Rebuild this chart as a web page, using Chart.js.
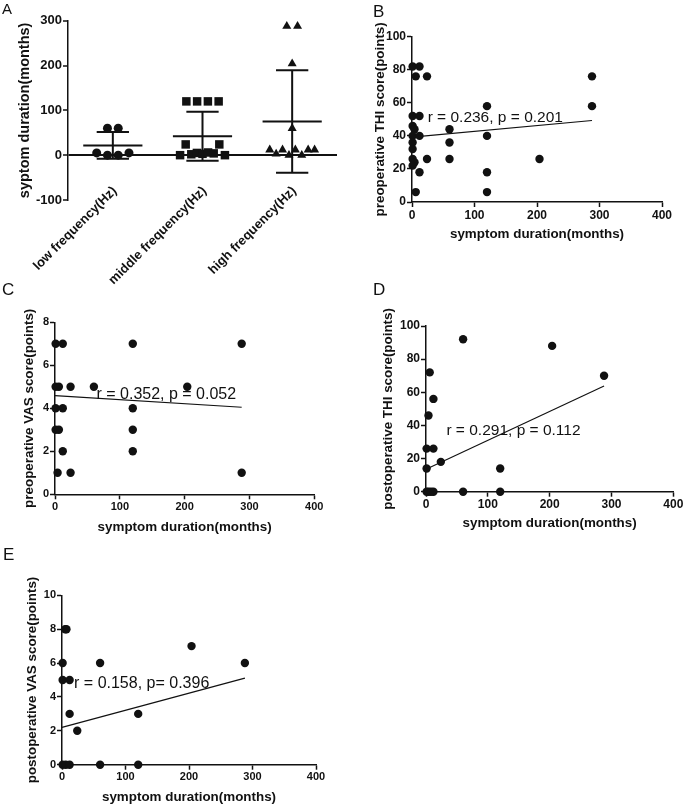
<!DOCTYPE html>
<html>
<head>
<meta charset="utf-8">
<script src="https://cdn.jsdelivr.net/npm/chart.js@4.4.0/dist/chart.umd.min.js"></script>
<style>
  body { margin: 0; background: #fff; }
  #wrap { position: relative; width: 685px; height: 805px; font-family: "Liberation Sans", Arial, Helvetica, sans-serif; }
  .panel { position: absolute; }
  .panel canvas { display: block; }
  .letter { position: absolute; font-size: 17px; line-height: 17px; color: #111; }
</style>
</head>
<body>
<div id="wrap">
  <div class="panel" style="left:0;top:0"><canvas id="chartA" width="345" height="290"></canvas></div>
  <div class="panel" style="left:345px;top:0"><canvas id="chartB" width="340" height="245"></canvas></div>
  <div class="panel" style="left:0;top:290px"><canvas id="chartC" width="345" height="250"></canvas></div>
  <div class="panel" style="left:345px;top:290px"><canvas id="chartD" width="340" height="250"></canvas></div>
  <div class="panel" style="left:0;top:545px"><canvas id="chartE" width="345" height="260"></canvas></div>
  <div class="letter" style="left:2px;top:0;font-size:15px">A</div>
  <div class="letter" style="left:373px;top:3px">B</div>
  <div class="letter" style="left:2px;top:281px">C</div>
  <div class="letter" style="left:373px;top:281px">D</div>
  <div class="letter" style="left:3px;top:546px">E</div>
</div>
<script>
// panel A: symptom duration per frequency group
const groupLabels = ['low frequency(Hz)', 'middle frequency(Hz)', 'high frequency(Hz)'];
const lowFreq = [60, 60, 5, 0, 0, 5];
const middleFreq = [120, 120, 120, 120, 0, 24, 2, 5, 3, 6, 4, 24, 0];
const highFreq = [288, 288, 204, 60, 12, 3, 12, 0, 12, 0, 12, 12];
const durationTicks = [-100, 0, 100, 200, 300];

// panels B-E: symptom duration (months) against scores
const durationB = [1, 12, 6, 24, 1, 12, 1, 4, 1, 12, 1, 1, 1, 4, 1, 12, 6, 24, 60, 60, 60, 120, 120, 120, 120, 204, 288, 288];
const preTHI = [82, 82, 76, 76, 52, 52, 46, 44, 40, 40, 36, 32, 26, 24, 22, 18, 6, 26, 44, 36, 26, 58, 40, 18, 6, 26, 76, 58];
const durationC = [1, 12, 1, 6, 24, 60, 1, 12, 1, 6, 12, 4, 24, 120, 120, 120, 120, 204, 288, 288];
const preVAS = [7, 7, 5, 5, 5, 5, 4, 4, 3, 3, 2, 1, 1, 7, 4, 3, 2, 5, 7, 1];
const durationD = [60, 204, 288, 6, 12, 4, 1, 12, 1, 24, 120, 1, 4, 8, 12, 60, 120];
const postTHI = [92, 88, 70, 72, 56, 46, 26, 26, 14, 18, 14, 0, 0, 0, 0, 0, 0];
const durationE = [5, 7, 1, 1, 12, 12, 24, 60, 120, 204, 288, 1, 6, 12, 60, 120];
const postVAS = [8, 8, 6, 5, 5, 3, 2, 6, 3, 7, 6, 0, 0, 0, 0, 0];

// fitted lines: [intercept, slope]
const fitB = [39.2, 0.0351];
const fitC = [4.59, -0.00188];
const fitD = [13.5, 0.1745];
const fitE = [2.2, 0.0101];
const statLabels = ['r = 0.236, p = 0.201', 'r = 0.352, p = 0.052', 'r = 0.291, p = 0.112', 'r = 0.158, p= 0.396'];

const FONT = '"Liberation Sans", Arial, Helvetica, sans-serif';
const INK = '#111';

function meanSd(v) {
  const m = v.reduce((a, b) => a + b, 0) / v.length;
  const sd = Math.sqrt(v.reduce((a, b) => a + (b - m) ** 2, 0) / (v.length - 1));
  return [m, sd];
}

// column scatter: values that sit close together get spread sideways
function spread(values, centre) {
  const clusters = [];
  values.forEach((v, i) => {
    let c = clusters.find(c => Math.abs(c.ref - v) <= 25);
    if (!c) { c = { ref: v, idx: [] }; clusters.push(c); }
    c.idx.push(i);
  });
  const pts = [];
  clusters.forEach(c => {
    const n = c.idx.length;
    const step = n > 1 ? Math.min(0.12, 0.5 / (n - 1)) : 0;
    c.idx.forEach((i, k) => pts.push({ x: centre + (k - (n - 1) / 2) * step, y: values[i] }));
  });
  return pts;
}

const statText = {
  id: 'statText',
  afterDatasetsDraw(chart, args, opts) {
    if (!opts.text) return;
    const { ctx, scales: { x, y } } = chart;
    ctx.save();
    ctx.font = opts.size + 'px ' + FONT;
    ctx.fillStyle = INK;
    ctx.textBaseline = 'middle';
    ctx.fillText(opts.text, x.getPixelForValue(opts.at[0]), y.getPixelForValue(opts.at[1]));
    ctx.restore();
  }
};

// slanted group names; the scale's own labels get clipped to its box,
// and these ones start a little above the bottom of the plot
const slantLabels = {
  id: 'slantLabels',
  afterDraw(chart, args, opts) {
    const { ctx, chartArea, scales: { x } } = chart;
    ctx.save();
    ctx.font = 'bold 13px ' + FONT;
    ctx.fillStyle = INK;
    ctx.textAlign = 'right';
    ctx.textBaseline = 'middle';
    opts.labels.forEach((t, i) => {
      ctx.save();
      ctx.translate(x.getPixelForValue(i + 1) + 2, chartArea.bottom - 11);
      ctx.rotate(-Math.PI / 4);
      ctx.fillText(t, 0, 0);
      ctx.restore();
    });
    ctx.restore();
  }
};

// ---- panel A ----
const groups = [lowFreq, middleFreq, highFreq];
const markers = ['circle', 'rect', 'triangle'];
const radii = [4.5, 6, 5.2];
const whisker = [];
groups.forEach((vals, g) => {
  const x = g + 1;
  const [m, sd] = meanSd(vals);
  whisker.push(
    { x: x - 0.33, y: m }, { x: x + 0.33, y: m }, { x, y: null },
    { x, y: m - sd }, { x, y: m + sd }, { x, y: null },
    { x: x - 0.18, y: m + sd }, { x: x + 0.18, y: m + sd }, { x, y: null },
    { x: x - 0.18, y: m - sd }, { x: x + 0.18, y: m - sd }, { x, y: null }
  );
});

new Chart(document.getElementById('chartA'), {
  type: 'scatter',
  plugins: [slantLabels],
  data: {
    datasets: [
      ...groups.map((vals, g) => ({
        data: spread(vals, g + 1),
        pointStyle: markers[g],
        pointRadius: radii[g],
        backgroundColor: INK,
        borderColor: INK,
        borderWidth: 0,
        clip: false
      })),
      { data: whisker, showLine: true, spanGaps: false, pointRadius: 0, borderColor: INK, borderWidth: 2, clip: false }
    ]
  },
  options: {
    responsive: false,
    animation: false,
    events: [],
    layout: { padding: { left: 0, top: 20.7, right: 8, bottom: 0 } },
    plugins: {
      legend: { display: false },
      tooltip: { enabled: false },
      slantLabels: { labels: groupLabels }
    },
    scales: {
      x: {
        type: 'linear', min: 0.5, max: 3.5,
        afterBuildTicks: s => { s.ticks = groupLabels.map((_, i) => ({ value: i + 1 })); },
        afterFit: s => { s.height = 90; },
        ticks: { display: false },
        grid: { display: false, drawTicks: false },
        border: { display: false }
      },
      y: {
        min: -100, max: 300,
        afterBuildTicks: s => { s.ticks = durationTicks.map(v => ({ value: v })); },
        afterFit: s => { s.width = 68; },
        ticks: { font: { family: FONT, size: 13, weight: 'bold' }, color: INK, padding: 1 },
        grid: {
          color: c => (c.tick && c.tick.value === 0 ? INK : 'rgba(0,0,0,0)'),
          lineWidth: 2, tickColor: INK, tickLength: 5, tickWidth: 1.5
        },
        border: { color: INK, width: 1.5 },
        title: {
          display: true, text: 'syptom duration(months)', color: INK,
          font: { family: FONT, size: 14.5, weight: 'bold' }, padding: { top: 16.3, bottom: 0 }
        }
      }
    }
  }
});

// ---- panels B-E ----
const panels = [
  { id: 'chartB', dur: durationB, score: preTHI, fit: fitB, yMax: 100, yStep: 20, yTitle: 'preoperative THI score(points)',
    note: statLabels[0], noteAt: [25, 51],
    geo: { top: 36.7, right: 23, yWidth: 67, xHeight: 43, yTitlePad: 27, xTitlePad: 3, tick: 12, noteSize: 15.5 } },
  { id: 'chartC', dur: durationC, score: preVAS, fit: fitC, yMax: 8, yStep: 2, yTitle: 'preoperative VAS score(points)',
    note: statLabels[1], noteAt: [64, 4.65],
    geo: { top: 32.3, right: 30.7, yWidth: 55, xHeight: 45.7, yTitlePad: 21, xTitlePad: 5, tick: 11, noteSize: 16 } },
  { id: 'chartD', dur: durationD, score: postTHI, fit: fitD, yMax: 100, yStep: 20, yTitle: 'postoperative THI score(points)',
    note: statLabels[2], noteAt: [33, 37],
    geo: { top: 36, right: 11.7, yWidth: 81, xHeight: 48.3, yTitlePad: 35.3, xTitlePad: 9, tick: 12, noteSize: 15.5 } },
  { id: 'chartE', dur: durationE, score: postVAS, fit: fitE, yMax: 10, yStep: 2, yTitle: 'postoperative VAS score(points)',
    note: statLabels[3], noteAt: [19, 4.8],
    geo: { top: 50.3, right: 29, yWidth: 62, xHeight: 40.3, yTitlePad: 24, xTitlePad: 0, tick: 11, noteSize: 16 } }
];

panels.forEach(p => {
  const g = p.geo;
  const xEnd = Math.max(...p.dur);
  const tickFont = { family: FONT, size: g.tick, weight: 'bold' };
  const titleFont = { family: FONT, size: 13.4, weight: 'bold' };
  const grid = { drawOnChartArea: false, tickColor: INK, tickLength: 5, tickWidth: 1.5 };
  new Chart(document.getElementById(p.id), {
    type: 'scatter',
    plugins: [statText],
    data: {
      datasets: [
        {
          data: p.dur.map((d, i) => ({ x: d, y: p.score[i] })),
          pointRadius: 4.2, backgroundColor: INK, borderColor: INK, borderWidth: 0, clip: false
        },
        {
          data: [{ x: 0, y: p.fit[0] }, { x: xEnd, y: p.fit[0] + p.fit[1] * xEnd }],
          showLine: true, pointRadius: 0, borderColor: INK, borderWidth: 1.2, clip: false
        }
      ]
    },
    options: {
      responsive: false,
      animation: false,
      events: [],
      layout: { padding: { left: 0, top: g.top, right: g.right, bottom: 0 } },
      plugins: {
        legend: { display: false },
        tooltip: { enabled: false },
        statText: { text: p.note, at: p.noteAt, size: g.noteSize }
      },
      scales: {
        x: {
          type: 'linear', min: 0, max: 400,
          afterFit: s => { s.height = g.xHeight; },
          ticks: { stepSize: 100, maxRotation: 0, font: tickFont, color: INK, padding: 1 },
          grid,
          border: { color: INK, width: 1.5 },
          title: {
            display: true, text: 'symptom duration(months)', color: INK, font: titleFont,
            padding: { top: 0, bottom: g.xTitlePad }
          }
        },
        y: {
          min: 0, max: p.yMax,
          afterFit: s => { s.width = g.yWidth; },
          ticks: { stepSize: p.yStep, font: tickFont, color: INK, padding: 1 },
          grid,
          border: { color: INK, width: 1.5 },
          title: {
            display: true, text: p.yTitle, color: INK, font: titleFont,
            padding: { top: g.yTitlePad, bottom: 0 }
          }
        }
      }
    }
  });
});
</script>
</body>
</html>
